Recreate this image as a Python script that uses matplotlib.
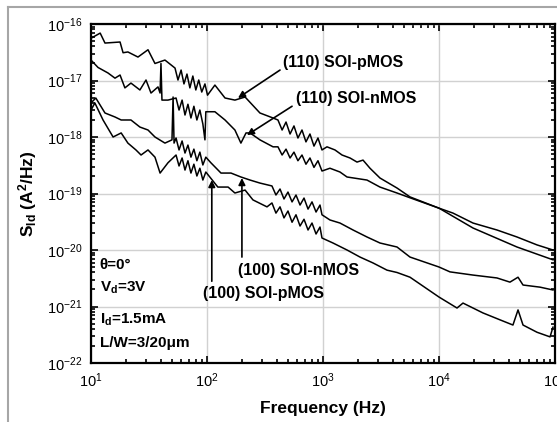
import matplotlib
matplotlib.use("Agg")
import matplotlib.pyplot as plt
from matplotlib.lines import Line2D
from matplotlib.ticker import LogLocator, FuncFormatter, NullFormatter
import numpy as np

plt.rcParams['font.family'] = ['Liberation Sans', 'DejaVu Sans']
plt.rcParams['mathtext.fontset'] = 'custom'
plt.rcParams['mathtext.rm'] = 'Liberation Sans'
plt.rcParams['mathtext.bf'] = 'Liberation Sans:bold'
plt.rcParams['mathtext.it'] = 'Liberation Sans:italic'

# (110) SOI-pMOS
f_p110 = [10, 12, 13.2, 17.8, 18.9, 20.8, 25.4, 31, 35.6, 43.4,
          53, 56.2, 59.8, 63.3, 67.2, 71.2, 75.5, 80.1, 84.9, 90.1, 96, 101,
          117, 143, 174, 213, 286, 371,
          409, 444, 480, 520, 562, 608, 659, 713, 772, 836, 905, 980,
          1082, 1268, 1459, 1710, 1964, 2213, 2541, 3098, 4345, 5623,
          1e4, 13200, 19640, 31600, 47000, 70000, 96100]
s_p110 = [5.6e-17, 6.9e-17, 4.6e-17, 4.8e-17, 3.1e-17, 3.2e-17, 2.6e-17, 3.5e-17, 2.0e-17, 2.3e-17,
          1.66e-17, 1.02e-17, 1.53e-17, 8.7e-18, 1.3e-17, 7.4e-18, 1.2e-17, 6.8e-18, 1.02e-17,
          6.25e-18, 8.7e-18, 5.5e-18,
          8.3e-18, 4.9e-18, 4.5e-18, 5.1e-18, 2.66e-18, 2.17e-18,
          2.0e-18, 1.33e-18, 1.84e-18, 1.13e-18, 1.57e-18, 9.6e-19, 1.33e-18, 8.2e-19, 1.13e-18,
          6.9e-19, 9.6e-19, 5.9e-19,
          6.7e-19, 5.9e-19, 4.8e-19, 4.25e-19, 3.6e-19, 3.9e-19, 2.8e-19, 1.88e-19, 1.25e-19, 8.7e-20,
          5.5e-20, 4.5e-20, 3.0e-20, 2.26e-20, 1.7e-20, 1.23e-20, 1.0e-20]

# (110) SOI-nMOS
f_n110 = [10, 11.5, 14, 16.1, 17.8, 19.6, 22.1, 26.4, 29.8, 32.9, 37.8, 39.4, 40.1, 40.9, 46.1,
          54.1, 57.4, 61, 64.6, 68.5, 72.7, 77.1, 81.8, 86.8, 92.1, 96, 97.7,
          117, 143, 174, 196, 217, 235, 286, 371,
          409, 444, 480, 520, 562, 608, 659, 713, 772, 836, 905, 980,
          1148, 1401, 1611, 2394, 3098, 4345, 5623, 1e4, 19640, 47000, 96100]
s_n110 = [2.3e-17, 1.7e-17, 1.36e-17, 1.1e-17, 1.25e-17, 7.4e-18, 9.0e-18, 6.8e-18, 1.02e-17,
          6.0e-18, 7.7e-18, 6.0e-18, 2.0e-17, 4.5e-18, 4.5e-18,
          4.9e-18, 3.0e-18, 4.5e-18, 2.45e-18, 3.8e-18, 2.17e-18, 3.5e-18, 2.0e-18, 3.0e-18,
          1.7e-18, 8.9e-19, 2.8e-18,
          2.8e-18, 2.0e-18, 1.33e-18, 7.8e-19, 1.18e-18, 1.18e-18, 8.9e-19, 6.7e-19,
          6.7e-19, 4.8e-19, 6.1e-19, 4.25e-19, 5.4e-19, 3.8e-19, 4.8e-19, 3.3e-19, 4.25e-19,
          2.9e-19, 3.8e-19, 2.5e-19,
          2.8e-19, 2.4e-19, 1.96e-19, 1.73e-19, 1.3e-19, 1.02e-19, 8.4e-20, 5.5e-20, 2.45e-20,
          1.13e-20, 6.7e-21]

# (100) SOI-nMOS
f_n100 = [10, 11, 13.2, 16.1, 18.2, 22.1, 26.4, 31, 35.6, 43.4, 49.9, 51, 52,
          54.1, 57.4, 61, 64.6, 68.5, 72.7, 77.1, 81.8, 86.8, 92.1, 97.7,
          108, 132, 161, 196, 235, 286,
          363, 393, 426, 461, 499, 541, 585, 634, 686, 743, 804, 871, 942, 980,
          1148, 1401, 1815, 2394, 3098, 4345, 5623, 1e4, 12440, 19640, 31600, 40900, 48000,
          53000, 74300, 96100]
s_n100 = [4.0e-18, 4.9e-18, 2.66e-18, 2.26e-18, 2.0e-18, 2.0e-18, 1.5e-18, 1.33e-18, 1.0e-18,
          7.8e-19, 8.9e-19, 5.1e-18, 7.8e-19,
          9.6e-19, 5.9e-19, 8.5e-19, 5.2e-19, 7.2e-19, 4.4e-19, 6.1e-19, 3.8e-19, 5.4e-19,
          3.2e-19, 4.4e-19,
          3.5e-19, 2.3e-19, 2.3e-19, 1.96e-19, 1.73e-19, 1.53e-19,
          1.36e-19, 9.4e-20, 1.2e-19, 8.0e-20, 1.06e-19, 7.1e-20, 9.4e-20, 6.25e-20, 8.3e-20,
          5.3e-20, 7.1e-20, 4.7e-20, 6.25e-20, 4.2e-20,
          3.4e-20, 3.0e-20, 2.26e-20, 1.7e-20, 1.33e-20, 1.13e-20, 7.5e-21, 5.0e-21, 4.1e-21,
          3.6e-21, 3.2e-21, 2.7e-21, 3.3e-21, 2.4e-21, 2.2e-21, 1.96e-21]

# (100) SOI-pMOS
f_p100 = [10, 10.8, 12.7, 15.5, 18.2, 20.8, 24.4, 27, 31, 35.6, 39.4, 46.1,
          54.1, 57.4, 61, 64.6, 68.5, 72.7, 77.1, 81.8, 86.8, 92.1, 97.7,
          124, 152, 174, 213, 249, 329,
          363, 393, 426, 461, 499, 541, 585, 634, 686, 743, 804, 871, 942, 980,
          1219, 1611, 2084, 2698, 3562, 4345, 5623, 1e4, 14300, 16100, 23900, 33600, 43400,
          48000, 53000, 70000, 90600, 96100]
s_p100 = [3.0e-18, 4.0e-18, 2.0e-18, 1.0e-18, 1.18e-18, 7.8e-19, 5.9e-19, 4.8e-19, 5.9e-19,
          4.4e-19, 2.3e-19, 3.5e-19,
          4.8e-19, 3.07e-19, 4.25e-19, 2.6e-19, 3.8e-19, 2.3e-19, 3.3e-19, 2.04e-19, 2.8e-19,
          1.73e-19, 2.4e-19,
          1.3e-19, 1.3e-19, 1.02e-19, 1.15e-19, 7.7e-20, 5.8e-20,
          6.8e-20, 4.5e-20, 5.8e-20, 3.7e-20, 4.9e-20, 3.1e-20, 4.2e-20, 2.66e-20, 3.5e-20,
          2.26e-20, 3.0e-20, 1.92e-20, 2.55e-20, 1.63e-20,
          1.33e-20, 1.0e-20, 7.5e-21, 5.9e-21, 4.4e-21, 4.0e-21, 3.3e-21, 1.47e-21, 9.4e-22,
          1.15e-21, 7.7e-22, 5.8e-22, 4.7e-22, 8.7e-22, 4.7e-22, 3.5e-22, 2.9e-22, 4.3e-22]

W, H = 557, 422
fig = plt.figure(figsize=(W / 100, H / 100), dpi=100)
ax = fig.add_axes([91 / W, 1 - 363 / H, (555 - 91) / W, (363 - 24) / H])

# grey frame round the figure
fig.add_artist(Line2D([8 / W, 8 / W], [0, 1 - 7 / H], color='0.65', lw=1.5))
fig.add_artist(Line2D([8 / W, 1], [1 - 7 / H, 1 - 7 / H], color='0.65', lw=1.5))

for f, s in [(f_p110, s_p110), (f_n110, s_n110), (f_n100, s_n100), (f_p100, s_p100)]:
    ax.plot(f, s, color='black', lw=1.1)

ax.set_xscale('log')
ax.set_yscale('log')
ax.set_xlim(10, 1e5)
ax.set_ylim(1e-22, 1e-16)

ax.grid(True, which='major', color='0.82', lw=1.0)
ax.set_axisbelow(True)
for sp in ax.spines.values():
    sp.set_linewidth(1.6)

ax.xaxis.set_major_locator(LogLocator(base=10, numticks=10))
ax.yaxis.set_major_locator(LogLocator(base=10, numticks=10))
ax.xaxis.set_minor_locator(LogLocator(base=10, subs=np.arange(2, 10), numticks=10))
ax.yaxis.set_minor_locator(LogLocator(base=10, subs=np.arange(2, 10), numticks=10))
fmt = FuncFormatter(lambda v, p: r'$\mathregular{10^{%d}}$' % int(round(np.log10(v))))
ax.xaxis.set_major_formatter(fmt)
ax.yaxis.set_major_formatter(fmt)
ax.xaxis.set_minor_formatter(NullFormatter())
ax.yaxis.set_minor_formatter(NullFormatter())
ax.tick_params(which='both', direction='in', top=True, right=True, width=1.2, labelsize=10.5)
ax.tick_params(which='major', length=5, pad=6)
ax.tick_params(which='minor', length=3)

ax.set_xlabel('Frequency (Hz)', fontsize=12.5, fontweight='bold', labelpad=8)
ax.set_ylabel(r'$\mathbf{S_{Id}\ (A^2/Hz)}$', fontsize=12.5, labelpad=6)

tfont = dict(fontsize=11.5, fontweight='bold', va='center', ha='left')
ax.text(452, 2.1e-17, '(110) SOI-pMOS', **tfont)
ax.text(585, 4.9e-18, '(110) SOI-nMOS', **tfont)
ax.text(185, 4.4e-21, '(100) SOI-nMOS', **tfont)
ax.text(92.4, 1.73e-21, '(100) SOI-pMOS', **tfont)

aprops = dict(arrowstyle='-|>', color='black', lw=1.2, mutation_scale=10, shrinkA=0, shrinkB=0)
ax.annotate('', xy=(185, 4.9e-18), xytext=(426, 1.53e-17), arrowprops=aprops)
ax.annotate('', xy=(221, 1.08e-18), xytext=(541, 3.5e-18), arrowprops=aprops)
ax.annotate('', xy=(200, 1.88e-19), xytext=(200, 7.5e-21), arrowprops=aprops)
ax.annotate('', xy=(110, 1.73e-19), xytext=(110, 2.8e-21), arrowprops=aprops)

cond = dict(transform=ax.transAxes, fontsize=11, fontweight='bold', va='center', ha='left')
ax.text(0.019, 0.289, '\u03b8=0\u00b0', **cond)
ax.text(0.019, 0.221, r'V$_\mathbf{d}$=3V', **cond)
ax.text(0.019, 0.127, r'I$_\mathbf{d}$=1.5mA', **cond)
ax.text(0.019, 0.059, 'L/W=3/20\u03bcm', **cond)

fig.savefig('out.png', dpi=100)
